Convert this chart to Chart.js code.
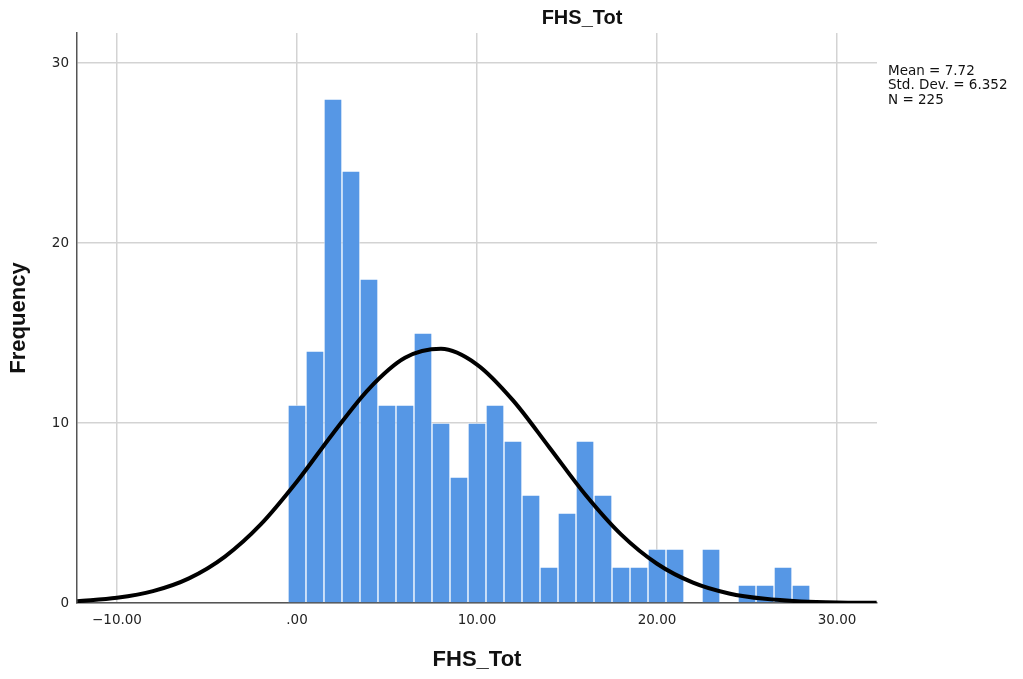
<!DOCTYPE html>
<html>
<head>
<meta charset="utf-8">
<title>FHS_Tot</title>
<script src="https://cdn.jsdelivr.net/npm/chart.js@4.4.1/dist/chart.umd.min.js"></script>
<style>
  html, body { margin: 0; padding: 0; background: #fff; }
  #wrap { width: 1023px; height: 679px; }
</style>
</head>
<body>
<div id="wrap"><canvas id="histChart"></canvas></div>
<script>
/**************************************************
 * DATA
 **************************************************/
const binCenters = [0, 1, 2, 3, 4, 5, 6, 7, 8, 9, 10, 11, 12, 13, 14,
                    15, 16, 17, 18, 19, 20, 21, 22, 23, 24, 25, 26, 27, 28];
const frequencies = [11, 14, 28, 24, 18, 11, 11, 15, 10, 7, 10, 11, 9, 6, 2,
                     5, 9, 6, 2, 2, 3, 3, 0, 3, 0, 1, 1, 2, 1];

// normal curve
const curveX = [-12.2, -10, -8, -6, -4, -2, 0, 2, 4, 6, 8, 10, 12, 14, 16,
                18, 20, 22, 24, 26, 28, 30, 32.2];
const curveY = [0.1, 0.29, 0.66, 1.37, 2.58, 4.38, 6.75, 9.42, 11.9, 13.62, 14.12, 13.25, 11.26, 8.67, 6.04,
                3.81, 2.18, 1.13, 0.53, 0.23, 0.09, 0.03, 0.01];

const xTicks = [-10, 0, 10, 20, 30];
const yTicks = [0, 10, 20, 30];

const chartTitle = "FHS_Tot";
const xTitle = "FHS_Tot";
const yTitle = "Frequency";
const statLines = ["Mean = 7.72", "Std. Dev. = 6.352", "N = 225"];

/**************************************************
 * EXTRA TEXT (title + stats box)
 **************************************************/
const textPlugin = {
  id: "extraText",
  afterDraw(chart) {
    const ctx = chart.ctx;
    ctx.save();
    ctx.fillStyle = "#111";
    ctx.font = "bold 20px 'Liberation Sans', Arial, sans-serif";
    ctx.textAlign = "center";
    ctx.textBaseline = "middle";
    ctx.fillText(chartTitle, 582, 18);

    ctx.font = "13.5px 'DejaVu Sans', sans-serif";
    ctx.textAlign = "left";
    statLines.forEach((t, i) => {
      ctx.fillText(t, 888, 71 + i * 14.5);
    });
    ctx.restore();
  }
};

function fmtTick(v) {
  if (v === 0) return ".00";
  if (v < 0) return "\u2212" + Math.abs(v).toFixed(2);
  return v.toFixed(2);
}

/**************************************************
 * CHART
 **************************************************/
const ctx = document.getElementById("histChart").getContext("2d");

new Chart(ctx, {
  type: "bar",
  data: {
    datasets: [
      {
        type: "line",
        data: curveX.map((x, i) => ({ x: x, y: curveY[i] })),
        borderColor: "#000",
        borderWidth: 4,
        pointRadius: 0,
        cubicInterpolationMode: "monotone",
        fill: false,
        order: 0
      },
      {
        type: "bar",
        data: binCenters.map((x, i) => ({ x: x, y: frequencies[i] })),
        backgroundColor: "#5697e5",
        borderColor: "rgba(255,255,255,0.5)",
        borderWidth: 1,
        barPercentage: 1,
        categoryPercentage: 1,
        order: 1
      }
    ]
  },
  options: {
    responsive: true,
    maintainAspectRatio: false,
    animation: false,
    layout: {
      padding: { top: 33, right: 146, left: 0, bottom: 0 }
    },
    plugins: {
      legend: { display: false },
      title: { display: false },
      tooltip: { enabled: false }
    },
    scales: {
      x: {
        type: "linear",
        min: -12.22,
        max: 32.22,
        offset: false,
        afterBuildTicks: scale => { scale.ticks = xTicks.map(v => ({ value: v })); },
        afterFit: scale => { scale.height = 76; },
        ticks: {
          callback: v => fmtTick(v),
          color: "#222",
          padding: 9,
          maxRotation: 0,
          font: { family: "'DejaVu Sans', sans-serif", size: 13.5 }
        },
        grid: { color: "#d3d3d3", lineWidth: 1.5, drawTicks: false, offset: false },
        border: { display: true, color: "#555", width: 1.5 },
        title: {
          display: true,
          text: xTitle,
          color: "#111",
          padding: { top: 0, bottom: 6 },
          font: { family: "'Liberation Sans', Arial, sans-serif", size: 22, weight: "bold" }
        }
      },
      y: {
        min: 0,
        max: 31.67,
        afterBuildTicks: scale => { scale.ticks = yTicks.map(v => ({ value: v })); },
        afterFit: scale => { scale.width = 77; },
        ticks: {
          color: "#222",
          padding: 8,
          font: { family: "'DejaVu Sans', sans-serif", size: 13.5 }
        },
        grid: { color: "#d3d3d3", lineWidth: 1.5, drawTicks: false },
        border: { display: true, color: "#555", width: 1.5 },
        title: {
          display: true,
          text: yTitle,
          color: "#111",
          padding: { top: 6, bottom: 0 },
          font: { family: "'Liberation Sans', Arial, sans-serif", size: 22, weight: "bold" }
        }
      }
    }
  },
  plugins: [textPlugin]
});
</script>
</body>
</html>
